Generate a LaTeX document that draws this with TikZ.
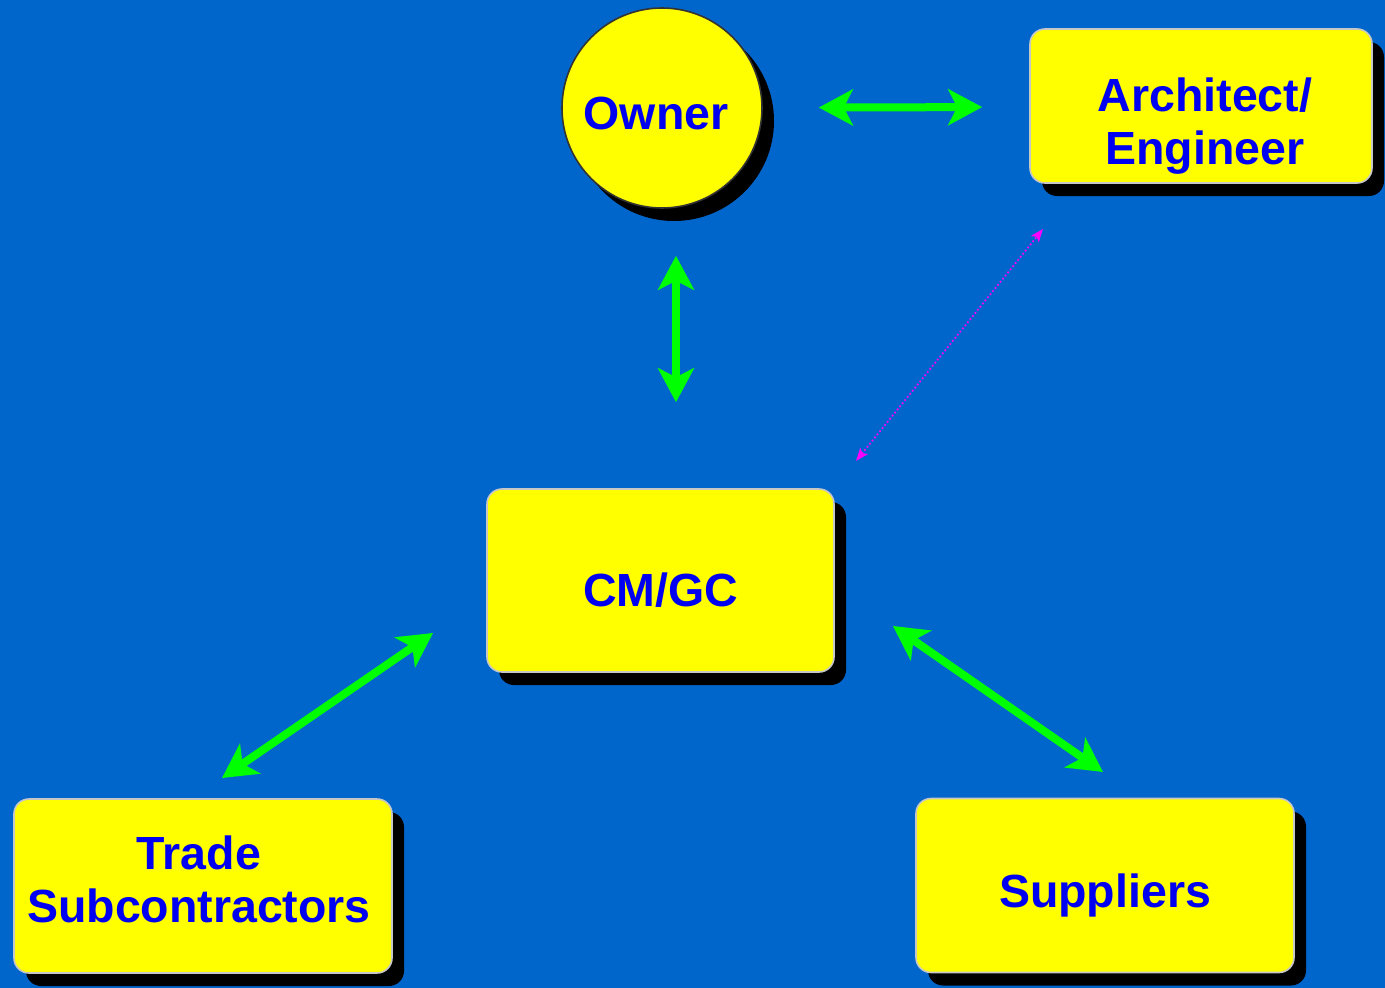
\documentclass[tikz,border=0pt]{standalone}
\usepackage{fontspec}
\setmainfont{Liberation Sans}
\usetikzlibrary{arrows.meta,shadows}

\definecolor{bgblue}{HTML}{0066CC}
\definecolor{boxyellow}{HTML}{FFFF00}
\definecolor{txtblue}{HTML}{0000F0}
\definecolor{arrgreen}{HTML}{00FF00}
\definecolor{linkpink}{HTML}{FF00FF}

\tikzset{
  party/.style={fill=boxyellow, inner sep=0pt,
    drop shadow={shadow xshift=12pt, shadow yshift=-13pt, fill=black, opacity=1}},
  partybox/.style={party, draw=black!22, line width=1.6pt, rounded corners=15pt, rectangle},
  partycirc/.style={party, draw=black!80, line width=1.6pt, circle, minimum size=200pt},
  partytext/.style={text=txtblue, align=center, inner sep=0pt,
    font=\bfseries\fontsize{46.5}{53}\selectfont},
  biarrow/.style={draw=arrgreen, line width=8pt,
    {Stealth[length=34pt,width=36pt,inset=9pt]}-{Stealth[length=34pt,width=36pt,inset=9pt]}},
  linkarrow/.style={draw=linkpink, line width=1.7pt, dash pattern=on 1.7pt off 2.3pt,
    {Stealth[length=13pt,width=10pt,inset=3pt]}-{Stealth[length=13pt,width=10pt,inset=3pt]}}
}

\begin{document}
\begin{tikzpicture}[x=1pt, y=-1pt]
	\fill[bgblue] (0,0) rectangle (1385,988);
	\useasboundingbox (0,0) rectangle (1385,988);

	% parties
	\node[partycirc, label={[partytext, xshift=-6pt, yshift=-5pt]center:Owner}] (owner) at (662,108) {};
	\node[partybox, minimum width=342pt, minimum height=154pt,
		label={[partytext, xshift=4pt, yshift=-20pt]center:Architect/\\Engineer}] (arch) at (1201,106) {};
	\node[partybox, minimum width=347pt, minimum height=183pt,
		label={[partytext, yshift=-10pt]center:CM/GC}] (cm) at (660.5,580.5) {};
	\node[partybox, minimum width=378pt, minimum height=174pt,
		label={[partytext, xshift=-4pt, yshift=7pt]center:Trade\\Subcontractors}] (trade) at (203,886) {};
	\node[partybox, minimum width=378pt, minimum height=174pt,
		label={[partytext, yshift=-10pt]center:Suppliers}] (supp) at (1105,885.5) {};

	% free ends of the arrows
	\coordinate (trade-up) at (222,778);
	\coordinate (cm-sw) at (433,633);
	\coordinate (cm-se) at (893,626);
	\coordinate (supp-up) at (1103,772);
	\coordinate (cm-ne) at (856,461);
	\coordinate (arch-sw) at (1043,229);

	% contracts
	\draw[biarrow, shorten <=56pt, shorten >=47pt] ([yshift=-1pt]owner) -- ([yshift=-3pt]arch);
	\draw[biarrow, shorten <=47pt, shorten >=86pt] ([xshift=14pt]owner.south) -- ([xshift=15.5pt]cm.north);
	\draw[biarrow] (cm-sw) -- (trade-up);
	\draw[biarrow] (cm-se) -- (supp-up);

	% communication only
	\draw[linkarrow] (cm-ne) -- (arch-sw);
\end{tikzpicture}
\end{document}
